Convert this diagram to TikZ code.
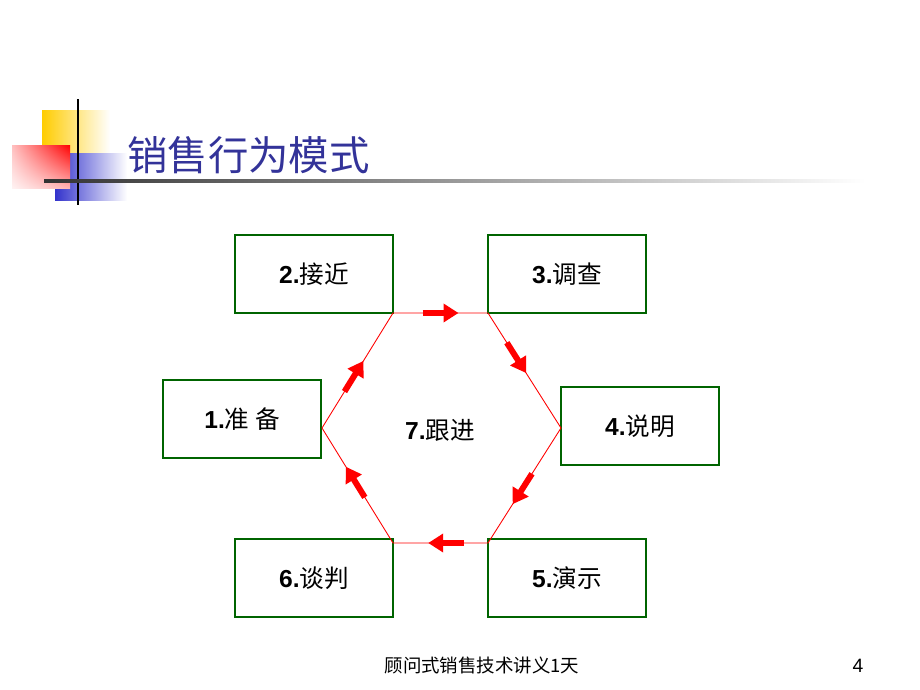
\documentclass[tikz,border=0pt]{standalone}
\usepackage{fontspec}
\setmainfont{Liberation Sans}
\newfontfamily\cjk{Noto Sans CJK SC}
\usetikzlibrary{arrows.meta,calc,positioning,shadings}
\definecolor{titleblue}{RGB}{51,51,153}
\definecolor{boxgreen}{RGB}{0,100,0}
\definecolor{decoyellow}{RGB}{255,204,0}
\definecolor{decoblue}{RGB}{51,51,204}
\tikzset{
  stagebox/.style={draw=boxgreen, line width=0.6pt, minimum width=3.16cm,
    minimum height=1.56cm, inner sep=0pt, font=\fontsize{14}{16}\selectfont},
  flowarrow/.style={red, line width=0.12cm, -{Triangle[length=0.3cm,width=0.36cm]}},
}
\newcommand{\stagelabel}[2]{\textbf{#1}{\cjk #2}}
\begin{document}
\begin{tikzpicture}[x=0.02cm,y=-0.02cm]
\useasboundingbox (0,0) rectangle (920,690);
% ==========================================
% corner decoration and title
\shade [left color=decoyellow, middle color=decoyellow!85, right color=white] (42,110) rectangle (110,153);
\shade [left color=decoblue, middle color=decoblue!80, right color=white] (55,153) rectangle (127,200);
\shade [upper right=red, upper left=red!25, lower right=red!30, lower left=red!5] (12,145) rectangle (70,188);
\draw [black, line width=1.6pt] (78,99) -- (78,205);
\shade [left color=black!80, middle color=black!35, right color=white] (44,179.5) rectangle (865,182.5);
\node [anchor=west, text=titleblue, font=\fontsize{23}{28}\selectfont] (title) at (121,155) {\cjk 销售行为模式};
% ==========================================
% the six stages
\node [stagebox] (prep) at (242,419) {\stagelabel{1.}{准 备}};
\node [stagebox] (appr) at (314,274) {\stagelabel{2.}{接近}};
\node [stagebox] (inve) at (567,274) {\stagelabel{3.}{调查}};
\node [stagebox] (expl) at (640,426) {\stagelabel{4.}{说明}};
\node [stagebox] (demo) at (567,578) {\stagelabel{5.}{演示}};
\node [stagebox] (nego) at (314,578) {\stagelabel{6.}{谈判}};
\node [font=\fontsize{14}{16}\selectfont] (foll) at (440,430) {\stagelabel{7.}{跟进}};
%
\coordinate (h1) at (322,428);
\coordinate (h2) at (393,313);
\coordinate (h3) at (488,313);
\coordinate (h4) at (561,428);
\coordinate (h5) at (488,543);
\coordinate (h6) at (393,543);
\draw [red, line width=0.5pt] (h1) -- (h2) -- (h3) -- (h4) -- (h5) -- (h6) -- cycle;
\foreach \a/\b/\t in {h1/h2/0.45, h2/h3/0.5, h3/h4/0.39, h4/h5/0.53, h5/h6/0.44, h6/h1/0.53}{
  \coordinate (m) at ($(\a)!\t!(\b)$);
  \draw [flowarrow] ($(m)!-0.36cm!(\b)$) -- ($(m)!0.36cm!(\b)$);%Arrow.
}
% ==========================================
% footer
\node [font=\fontsize{10.5}{12}\selectfont] (foot) at (482,665) {\cjk 顾问式销售技术讲义1天};
\node [font=\fontsize{11}{13}\selectfont] (page) at (858,666) {4};
% =============================================
\end{tikzpicture}
\end{document}
